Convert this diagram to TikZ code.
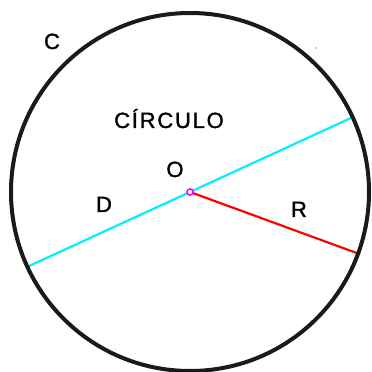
\documentclass[tikz,border=0pt]{standalone}
\usepackage{fontspec}
\setmainfont[FakeBold=1.5]{Liberation Sans}
\usetikzlibrary{positioning}

\begin{document}
\begin{tikzpicture}[x=1pt, y=1pt, font=\fontsize{22}{22}\selectfont]
  \definecolor{rimgray}{HTML}{1A1A1A}
  \definecolor{diamcyan}{HTML}{00F0FF}
  \definecolor{radred}{HTML}{FF0000}
  \definecolor{ptmagenta}{HTML}{FF00FF}
  \tikzset{lbl/.style={anchor=base, inner sep=0pt}}

  \useasboundingbox (0,0) rectangle (372,372);

  \coordinate (O) at (190,180);
  \coordinate (diamA) at ([shift={(24.7:178)}]O);
  \coordinate (diamB) at ([shift={(204.7:178)}]O);
  \coordinate (radEnd) at ([shift={(-20.1:178)}]O);

  % diameter and radius
  \draw[diamcyan, line width=2.2pt] (diamB) -- (diamA);
  \draw[radred, line width=2.2pt] (O) -- (radEnd);

  % the circle itself
  \draw[rimgray, line width=4pt] (O) circle (179);
  \fill[black] (316,324) circle (0.7);

  \filldraw[draw=ptmagenta, fill=white, line width=1.5pt] (O) circle (3.1);

  \node[lbl] (lblC) at (52,323) {C};
  \node[lbl] (lblCirculo) at (169,244) {\addfontfeature{LetterSpace=8}CÍRCULO};
  \node[lbl] (lblO) at (175,195) {O};
  \node[lbl] (lblD) at (104,160) {D};
  \node[lbl] (lblR) at (299,155) {R};
\end{tikzpicture}
\end{document}
